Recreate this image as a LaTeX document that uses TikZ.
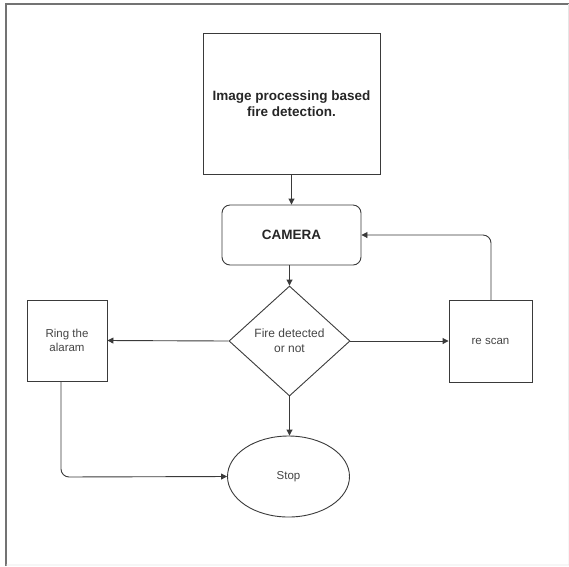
\documentclass[tikz,border=0pt]{standalone}
\usepackage{fontspec}
\setmainfont{Liberation Sans}
\usetikzlibrary{shapes.geometric,arrows.meta}
\definecolor{ln}{HTML}{3A3A3A}
\definecolor{tx}{HTML}{444444}
\begin{document}
\begin{tikzpicture}[x=1pt,y=-1pt,
  box/.style={draw=ln,line width=0.9pt,minimum width=#1,align=center,inner sep=0pt,text=tx},
  conn/.style={draw=ln,line width=0.9pt,-{Triangle[length=6pt,width=6pt]}},
  every node/.style={font=\fontsize{11.5}{14.5}\selectfont}]
\useasboundingbox (0,0) rectangle (569,566);
% frame
\draw[draw=black!55,line width=1.6pt] (6,566) -- (6,4) -- (569,4);
\draw[draw=black!10,line width=0.8pt] (6,565) -- (569,565) -- (568.5,4);
% nodes
\node[box=177pt,minimum height=141pt,font=\bfseries\fontsize{13.5}{16}\selectfont,text=black!85] (title) at (291.5,103.5) {Image processing based\\fire detection.};
\node[box=139pt,minimum height=60pt,rounded corners=8pt,font=\bfseries\fontsize{13.5}{16}\selectfont,text=black!85] (cam) at (291.5,235) {CAMERA};
\node[draw=ln,line width=0.9pt,diamond,aspect=1.1,minimum width=121pt,minimum height=110pt,inner sep=0pt,align=center,text=tx,font=\fontsize{12}{15}\selectfont] (dec) at (289.5,341) {Fire detected\\or not};
\node[box=80pt,minimum height=81pt,text=tx] (ring) at (67,340.5) {Ring the\\alaram};
\node[box=83pt,minimum height=82pt,text=tx] (scan) at (490.5,341) {re scan};
\node[draw=ln,line width=0.9pt,ellipse,minimum width=122pt,minimum height=81pt,inner sep=0pt,text=tx] (stop) at (288.5,476.5) {Stop};
% connectors
\draw[conn] (title.south) -- (cam.north);
\draw[conn] (cam.south -| dec.north) -- (dec.north);
\draw[conn] (dec.west) -- (ring.east);
\draw[conn] (dec.east) -- (scan.west);
\draw[conn] (dec.south) -- (dec.south |- stop.north);
\coordinate (rb) at (61,381);
\draw[conn,rounded corners=8pt] (rb) -- (61,477) -- (stop.west);
\coordinate (st) at (491,300);
\draw[conn,rounded corners=8pt] (st) -- (491,235) -- (cam.east);
\end{tikzpicture}
\end{document}
